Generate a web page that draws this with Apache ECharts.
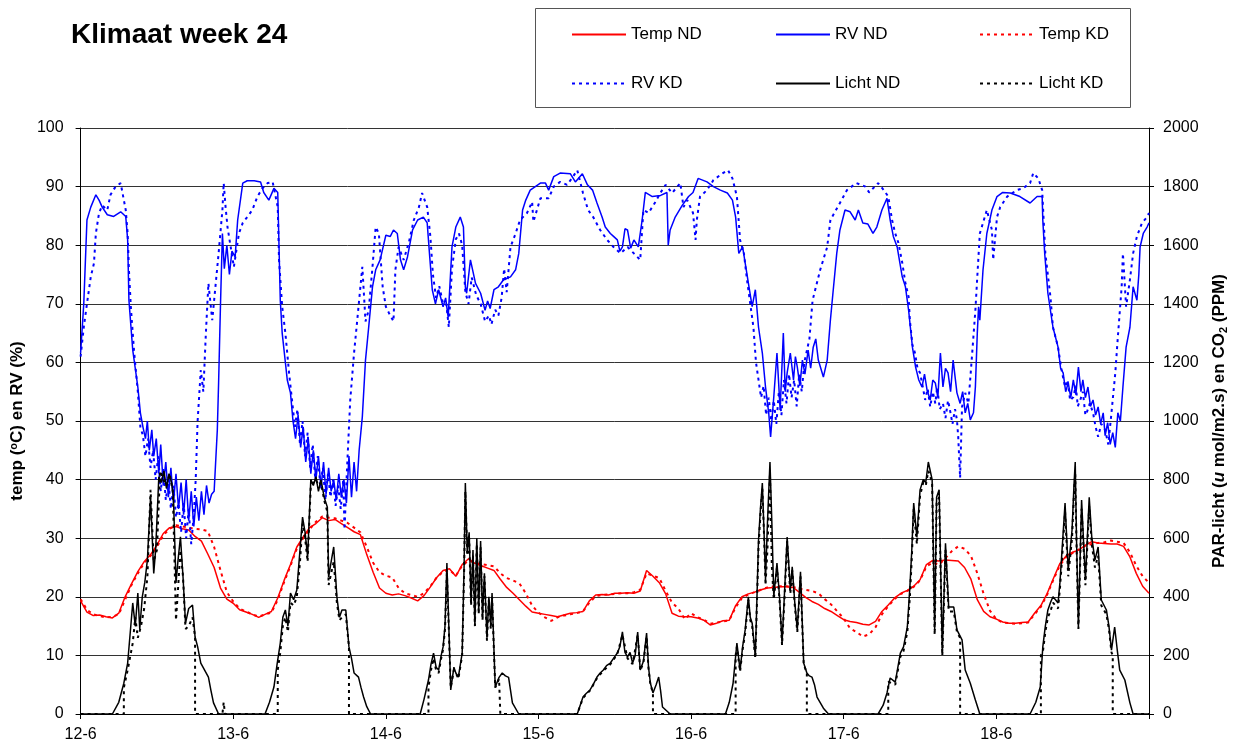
<!DOCTYPE html>
<html><head><meta charset="utf-8">
<script src="https://cdn.jsdelivr.net/npm/echarts@6/dist/echarts.min.js"></script>
<style>html,body{margin:0;padding:0;background:#fff}#c{width:1244px;height:749px}</style>
</head><body><div id="c"></div>
<script>
// x values are hours since 12-6 00:00
const dayLabels = ['12-6','13-6','14-6','15-6','16-6','17-6','18-6'];
const seriesNames = ['Temp ND','RV ND','Temp KD','RV KD','Licht ND','Licht KD'];

// hourly temperature (°C), index = hour 0..168
const tempND = [19.3,17.4,16.8,16.9,16.6,16.4,17.2,20.0,22.2,24.3,26.0,27.2,28.8,30.8,31.8,32.0,31.6,31.4,30.3,29.5,27.3,25.0,21.5,19.6,
18.9,17.8,17.4,17.0,16.5,17.0,17.5,19.8,22.8,25.5,28.5,30.2,31.8,32.5,33.5,33.0,33.2,32.5,31.8,31.1,30.6,27.2,24.2,21.5,
20.6,20.3,20.5,20.2,19.8,19.3,20.2,21.7,23.3,24.5,24.8,23.5,25.5,26.5,25.7,25.3,24.9,24.5,23.0,21.6,20.6,19.5,18.4,17.4,
17.2,17.0,16.8,16.6,16.9,17.2,17.3,17.5,19.3,20.3,20.4,20.3,20.6,20.6,20.7,20.6,21.0,24.5,23.5,22.4,20.5,17.2,16.7,16.6,
16.6,16.4,16.0,15.2,15.5,15.9,16.0,18.5,20.0,20.5,20.8,21.2,21.5,21.6,21.7,21.7,21.6,20.8,19.9,19.2,18.7,18.0,17.5,16.8,
16.1,15.8,15.6,15.3,15.2,15.8,17.5,18.6,19.8,20.6,21.1,21.8,22.9,25.5,26.2,26.1,26.3,26.2,26.1,25.0,23.0,19.5,17.5,16.6,
16.2,15.7,15.5,15.5,15.6,15.7,17.2,18.5,20.6,23.2,25.7,27.0,27.6,28.0,28.8,29.4,29.2,29.1,29.0,29.0,28.6,26.8,24.0,21.8,
20.6];
const tempKD = [19.6,17.8,17.0,16.7,16.5,16.6,17.0,19.5,22.0,24.0,25.8,27.0,28.5,30.5,31.6,32.2,32.0,31.8,31.6,31.5,31.2,28.5,24.5,20.8,
19.2,18.0,17.5,17.0,16.6,17.0,17.3,19.5,22.5,25.3,28.2,30.0,31.5,32.8,33.7,33.5,33.4,33.0,32.6,31.8,31.0,28.5,25.8,24.2,
23.6,23.3,21.5,20.6,20.3,20.0,20.6,21.8,23.3,24.3,24.6,23.6,25.3,26.2,25.8,25.6,25.4,25.2,24.0,23.2,22.8,22.3,20.6,18.5,
17.3,16.5,15.9,16.5,16.8,17.0,17.2,17.5,19.0,20.1,20.3,20.4,20.5,20.6,20.6,20.8,21.2,24.0,23.6,23.2,21.0,19.0,18.0,16.2,
17.2,16.5,16.1,15.4,15.6,15.8,16.0,18.2,19.8,20.4,20.8,21.2,21.6,21.8,21.8,21.8,21.7,21.4,21.2,21.0,20.6,19.6,18.7,17.5,
16.3,14.6,14.0,13.2,13.6,14.8,17.0,18.4,19.6,20.5,21.0,21.7,22.8,25.2,25.8,25.5,26.6,27.8,28.6,28.2,27.0,24.0,20.5,17.6,
16.2,15.6,15.5,15.4,15.5,15.6,17.0,18.3,20.4,23.0,25.4,26.8,27.5,28.1,28.7,29.0,29.2,29.3,29.6,29.4,29.2,27.6,25.3,23.5,
22.4];

// relative humidity (%) as [hour, value]
const rvND = [[0,61.6],[0.5,70],[1,84.3],[1.6,86.5],[2.4,88.6],[2.9,87.7],[3.4,86.5],[4.2,85.2],[5.2,84.9],[6.3,85.7],[7.1,84.9],[7.4,80.9],[7.6,70.6],[8.2,62.1],[9,55.8],[9.4,51.4],[9.8,49],[10.2,47],[10.5,50],[10.8,45],[11.2,48.5],[11.5,44],[11.9,47],[12.3,41],[12.6,46],[13,39],[13.4,43],[13.8,37],[14.2,42],[14.6,36],[15,41],[15.4,35],[15.8,39.5],[16.2,34],[16.6,40],[17,33],[17.4,38],[17.8,32],[18.2,37],[18.6,33],[19,38],[19.4,34],[19.8,39],[20.2,36],[20.6,37.5],[21,38],[21.5,48.5],[21.7,56.5],[22,70],[22.3,82],[22.6,76],[23,80],[23.4,75],[23.8,79],[24.3,78],[24.7,84.3],[25.5,90.6],[26.2,91],[27.3,91],[28.3,90.8],[28.8,89],[29.6,87.7],[30.4,89.7],[31,89],[31.4,70.6],[31.7,65],[32.5,57],[33,54.8],[33.4,50],[33.8,47],[34.2,51],[34.6,45.5],[35,49],[35.4,43],[35.8,47],[36.2,41],[36.6,45],[37,40],[37.4,44],[37.8,38.5],[38.2,43],[38.6,37.5],[39,42],[39.4,38],[39.8,40],[40.2,36.5],[40.6,41],[41,37],[41.4,40],[41.8,36],[42.2,44],[42.6,37],[43,43],[43.4,38],[43.8,45],[44.3,50.7],[44.8,60.4],[45.3,66],[45.9,72.9],[46.4,75.8],[47.1,77.5],[48,81.7],[48.7,81.5],[49.2,82.6],[49.8,82],[50.3,77.5],[50.8,75.8],[51.4,78],[52.2,82.6],[53,84.3],[53.9,84.8],[54.5,83.8],[54.9,78],[55.3,72.4],[55.8,70],[56.3,72.4],[57,69.5],[57.4,71],[57.8,67.7],[58.4,79.7],[59,83.1],[59.7,84.8],[60.2,83.1],[60.5,72.9],[60.7,71.8],[61.3,77.5],[62.1,73.5],[62.9,71.8],[63.6,68.9],[64,70.5],[64.4,69.2],[65,72.4],[65.7,72.9],[66.5,74.1],[67.6,74.6],[68.4,75.8],[68.9,78.6],[69.5,86],[70,87.7],[70.7,89.4],[72.3,90.6],[73.1,90.6],[73.6,89.4],[74.4,91.7],[75.4,92.3],[77,92.2],[77.8,90.8],[78.9,92.2],[79.7,90.3],[80.5,89.4],[81.2,87.2],[82,84.8],[82.5,83.1],[83.3,82],[83.8,81.5],[84.4,80.9],[84.8,79],[85.2,79.7],[85.6,82.8],[86,82.6],[86.5,79.5],[87,80.9],[87.7,79.7],[88.3,84.3],[88.8,89],[89.9,88.3],[91.2,88.5],[92.2,89],[92.4,80],[92.7,82.6],[93.5,84.8],[94.6,86.8],[95.6,88.3],[96.3,89],[97.1,91.4],[98.5,90.8],[99.5,90],[100.6,89.4],[101.7,88.9],[102.5,87.7],[103,84.8],[103.5,78.6],[104.1,79.7],[104.6,76.3],[105.1,72.9],[105.6,69.5],[106.1,72.4],[106.6,66],[107.2,61.6],[107.7,55.8],[108.2,51.4],[108.5,47.3],[109,54.1],[109.5,61.6],[110,51.9],[110.5,65],[110.8,55],[111.1,58.2],[111.6,61.6],[112.1,57],[112.4,61],[112.7,59.2],[113.1,56],[113.5,60.4],[113.9,58],[114.4,62.1],[114.8,59],[115.2,62.6],[115.6,64],[116,60.4],[116.8,57.5],[117.4,60.4],[117.9,67.2],[118.3,71.8],[118.9,78.6],[119.4,82.6],[120.2,86],[121,85.7],[121.8,84.3],[122.3,86],[123,83.8],[123.8,83.6],[124.6,82],[125.2,83.1],[126,86],[126.8,88],[127.3,84.3],[127.8,81.5],[128.4,79.7],[129.2,74.6],[129.7,72.9],[130.2,68.9],[130.8,62.6],[131.3,59.2],[131.8,57],[132.3,55.8],[132.7,58],[133.1,55.3],[133.6,53.6],[134,57],[134.4,56.5],[134.8,54],[135.2,61.6],[135.6,55.8],[136,59],[136.4,58.2],[136.8,55],[137.2,60.4],[137.8,54.8],[138.3,53],[138.7,55],[139.1,51.4],[139.5,53],[139.9,50.2],[140.4,51.4],[140.7,55.8],[141,65],[141.2,69.5],[141.4,67.2],[141.9,75.8],[142.5,82],[143.3,86],[144.1,88.3],[145,89],[146.2,88.9],[147.7,88.3],[149.3,87.2],[150.4,88.3],[151.2,88.3],[151.3,84.3],[151.6,78.6],[152.1,71.8],[152.9,66],[153.7,62.6],[154.1,59],[154.5,58.2],[154.9,55],[155.3,56.5],[155.7,54],[156.1,57],[156.5,54.5],[156.9,59.2],[157.3,55],[157.6,57],[158,54],[158.4,55.8],[158.8,52.5],[159.2,53.6],[159.6,51],[160,52.4],[160.4,49.5],[160.8,51.4],[161.1,47.5],[161.5,49.7],[161.9,46],[162.3,48],[162.7,45.5],[163.1,51.4],[163.5,50],[163.9,55.8],[164.4,62.6],[165,66],[165.5,72.9],[166.1,70.6],[166.4,75],[166.6,79.7],[167.1,82],[167.7,83.1],[168,83.8]];

const rvKD = [[0,61],[0.5,66],[1,70],[1.6,74.6],[2.1,76.9],[2.4,82],[2.9,85.5],[3.4,86.8],[4.2,86],[4.7,88.6],[5.5,90],[6.3,90.6],[6.8,87.7],[7.1,86],[7.4,82],[7.6,75.8],[7.9,69.5],[8.4,62],[9,55],[9.4,49],[9.8,47.5],[10.2,44],[10.6,47],[11,42],[11.4,45],[11.8,40],[12.2,44],[12.6,38],[13,42],[13.4,36.5],[13.8,40],[14.2,35],[14.6,39],[15,33.5],[15.4,36],[15.8,31],[16.2,36],[16.6,30],[17,35],[17.4,29],[17.8,34],[18.1,40],[18.4,50],[18.9,58.7],[19.3,55],[19.7,65],[20.1,73.5],[20.7,67.2],[21.2,72.9],[21.7,78.6],[22.3,86],[22.5,90.6],[22.8,86.5],[23.1,83.1],[23.6,79.7],[24.1,76.3],[24.9,82],[25.5,83.8],[26.2,84.8],[27,86],[27.8,88.3],[28.6,89.7],[29.4,90.6],[30.2,90.8],[31,86.5],[31.2,77.5],[31.7,69.5],[32.2,65],[32.8,58],[33.3,53],[33.7,49],[34.1,52],[34.5,46],[34.9,50],[35.3,44],[35.7,48],[36.1,42],[36.5,46],[36.9,40],[37.3,44],[37.7,39],[38.1,42],[38.5,36.5],[38.9,41],[39.3,37],[39.7,40],[40.1,35.5],[40.5,39],[40.9,35],[41.3,40],[41.5,31.5],[41.9,42],[42.4,53.6],[43,61.6],[43.5,67.2],[44,72.9],[44.3,76.3],[44.8,67],[45.3,68.9],[45.9,76.3],[46.4,83.1],[46.9,82],[47.5,72.9],[48,69.5],[48.5,68.4],[49.2,67],[49.5,75.8],[50,79.7],[50.8,77.5],[51.6,80.4],[52.4,84.3],[53.2,86.5],[53.7,88.9],[54.5,86.5],[55,81.5],[55.4,75],[55.9,71],[56.4,73],[57,70],[57.5,70],[57.9,66],[58.4,76],[59,81],[59.5,82],[60,80],[60.5,72],[61,70],[61.5,74.5],[62.2,71.5],[62.9,70],[63.6,67],[64.2,68],[64.6,66.5],[65.2,69],[65.7,68],[66.2,71],[66.6,76],[67,72],[67.6,79.7],[68.4,82],[69.1,84.3],[70.2,85.5],[71,87.4],[71.2,84],[72.3,88],[73.6,88],[74.4,90],[75.4,90.8],[76.5,90.3],[77.3,91.5],[78.1,92.8],[79,88.9],[79.8,86],[80.6,84.8],[81.7,82.6],[82.8,80.9],[83.8,79.7],[84.9,78.6],[86,79.7],[87,78.6],[88,77.5],[88.5,86],[89.3,85.5],[90.4,87.4],[91.2,89],[92,90.3],[93,88.9],[94.3,90.6],[94.8,86.5],[95.4,87.7],[96.3,85.5],[96.7,80.9],[96.9,84.3],[97.4,88.3],[98.5,89.4],[99.5,91.1],[101,92.3],[101.8,92.8],[102.5,91.4],[103.2,88.3],[103.7,80.9],[104.3,78.6],[104.8,74],[105.3,70],[105.8,66],[106.2,60],[106.6,57],[107,54],[107.4,56],[107.8,51],[108.2,54],[108.6,50],[109,53.5],[109.4,49.5],[109.8,55],[110.2,51],[110.6,57],[111,53],[111.4,58],[111.8,54],[112.2,57],[112.6,52.5],[113,58],[113.4,55],[113.8,60],[114.2,62],[114.6,64],[115.1,70.6],[116.3,75.8],[117.4,79.7],[117.9,84.3],[119.4,87.2],[120.5,89.4],[122,90.6],[123.4,90],[124,89],[125.4,90.6],[125.7,90.8],[126.3,89.4],[127,88.3],[127.6,84.3],[128.1,82],[128.6,80.4],[129.2,77],[129.7,73.5],[130.2,71.2],[130.4,67.2],[130.8,63],[131.2,61.6],[131.6,59],[132,58.2],[132.4,56],[132.8,53.6],[133.2,55.5],[133.6,52.4],[134,55],[134.4,53],[134.7,55.8],[135.1,52],[135.6,53],[136,50.5],[136.4,53.5],[136.7,51.9],[137.1,49.5],[137.5,52],[137.8,50.2],[138,47.3],[138.3,40.3],[138.6,52.4],[139.1,54.8],[139.6,53],[140.2,61.6],[140.7,68.9],[141,74.6],[141.4,82],[142.5,86],[143.3,82.6],[143.5,77.5],[144.1,84.8],[144.6,86.5],[145.7,88.3],[147.2,89.4],[148.2,89.7],[149.3,90.6],[149.8,92.3],[150.6,91.4],[151.2,89.4],[151.7,78.6],[152.5,71.2],[152.9,66],[153.7,62.6],[154.2,59],[154.8,55.8],[155.2,57],[155.6,53.5],[156.1,54.1],[156.5,56],[156.8,52.5],[157.2,53.6],[157.6,55],[158,51],[158.2,51.4],[158.7,53],[159.2,51.4],[159.6,49],[160,47.3],[160.5,49.5],[161.1,48.5],[161.6,46],[162.1,51.4],[162.7,58.2],[163.1,64.3],[163.7,72.9],[163.9,78.6],[164.4,69.5],[165,74.1],[165.5,78.6],[166.1,81.5],[166.9,83.8],[167.7,84.8],[168,85.5]];

// PAR light (umol/m2.s) as [hour, value]
const lichtND = [[0,0],[5,0],[6,40],[6.8,105],[7.4,174],[8.2,379],[8.6,300],[9,413],[9.3,290],[9.7,400],[10.1,450],[10.5,525],[11,740],[11.5,480],[11.8,560],[12.3,810],[12.7,790],[13.1,830],[13.5,770],[13.9,820],[14.3,790],[14.6,740],[15,447],[15.3,520],[15.7,605],[16.1,470],[16.5,310],[17,360],[17.6,372],[18,263],[18.4,230],[18.9,174],[19.5,150],[20.1,126],[20.5,80],[20.9,38],[21.7,0],
[29,0],[29.7,40],[30.4,92],[30.9,170],[31.4,242],[31.8,330],[32.2,355],[32.6,300],[33,413],[33.5,390],[34,423],[34.5,560],[34.9,672],[35.3,620],[35.7,536],[36.2,800],[36.6,780],[37,810],[37.4,760],[37.8,800],[38.3,740],[38.8,706],[39,467],[39.4,520],[39.8,570],[40.3,400],[40.7,330],[41.1,355],[41.7,355],[42.2,229],[42.6,190],[43,140],[43.7,126],[44.1,90],[44.5,58],[45,25],[45.6,0],
[53.4,0],[54,50],[54.7,116],[55.1,170],[55.5,208],[55.9,160],[56.3,150],[56.7,200],[57,229],[57.3,300],[57.6,515],[57.9,300],[58.2,82],[58.7,160],[59,140],[59.4,126],[60,208],[60.3,500],[60.5,788],[60.8,550],[61.1,620],[61.4,380],[61.7,560],[62,300],[62.3,600],[62.6,350],[62.9,590],[63.2,330],[63.5,480],[63.9,260],[64.2,400],[64.5,300],[64.7,413],[65,218],[65.2,92],[65.8,125],[66.3,140],[66.8,130],[67.3,125],[67.9,38],[68.9,0],
[78.1,0],[79,58],[79.5,70],[80.1,82],[80.6,100],[81.2,126],[81.7,140],[82.2,150],[82.7,165],[83.3,174],[83.8,190],[84.4,208],[84.8,230],[85.2,280],[85.6,210],[86,195],[86.4,210],[86.8,174],[87.2,200],[87.6,280],[88,150],[88.5,180],[89,276],[89.3,160],[89.6,105],[90,72],[90.5,100],[90.9,126],[91.2,80],[91.5,24],[92.7,0],
[101.4,0],[102,40],[102.6,105],[103.2,242],[103.7,150],[104.1,230],[104.5,287],[105,400],[105.3,330],[105.6,310],[106.1,195],[106.6,594],[106.9,700],[107.2,788],[107.5,600],[107.7,457],[108,650],[108.4,860],[108.7,650],[109,400],[109.5,515],[109.9,400],[110.3,242],[110.7,420],[111.1,604],[111.6,423],[111.9,502],[112.3,380],[112.7,287],[113.2,485],[113.7,174],[114.2,140],[114.6,130],[115,126],[115.4,100],[115.8,58],[116.8,20],[117.6,0],
[125.4,0],[126.2,30],[126.8,72],[127.3,123],[128.1,109],[128.9,208],[129.4,229],[130,297],[130.4,433],[130.7,560],[131,720],[131.5,604],[132,765],[132.5,800],[132.9,790],[133.3,860],[133.9,800],[134.3,287],[134.6,740],[135,765],[135.5,208],[136,583],[136.5,365],[137.3,365],[137.8,287],[138.2,270],[138.6,253],[139.1,150],[139.9,105],[140.7,48],[141.4,0],
[149.3,0],[150.2,40],[150.9,92],[151.3,229],[151.7,300],[152.1,355],[152.5,380],[152.9,400],[153.3,390],[153.7,379],[154,450],[154.3,550],[154.8,720],[155.3,491],[155.9,628],[156.2,780],[156.4,860],[156.6,600],[156.9,297],[157.4,730],[158,457],[158.6,740],[159,604],[159.5,525],[160,570],[160.5,389],[161.3,355],[161.7,300],[162.1,218],[162.6,297],[163,220],[163.4,150],[164.2,116],[165,38],[165.5,0],[168,0]];

const lichtKD = [[0,0],[6.8,0],[6.8,90],[7.4,150],[8.2,242],[8.6,330],[9,260],[9.5,300],[10,360],[10.5,467],[11,765],[11.5,520],[12,560],[12.5,830],[13,800],[13.5,780],[14,820],[14.5,760],[15,320],[15.3,420],[15.7,560],[16.1,470],[16.5,290],[17,300],[17.6,330],[18,263],[18,0],[22.3,0],[22.5,40],[22.7,0],
[31,0],[31,150],[31.4,210],[31.8,300],[32.2,330],[32.6,280],[33,380],[33.5,370],[34,400],[34.5,520],[34.9,650],[35.3,600],[35.7,520],[36.2,780],[36.6,790],[37,800],[37.4,780],[37.8,790],[38.3,730],[38.8,690],[39,440],[39.4,480],[39.8,520],[40.3,380],[40.7,320],[41.1,330],[41.7,340],[42.2,229],[42.2,0],
[54.7,0],[54.7,90],[55.1,150],[55.5,190],[55.9,150],[56.3,140],[56.7,190],[57,220],[57.3,290],[57.6,480],[57.9,290],[58.2,90],[58.7,150],[59,140],[59.4,120],[60,200],[60.3,480],[60.5,760],[60.8,540],[61.1,600],[61.4,370],[61.7,540],[62,300],[62.3,580],[62.6,340],[62.9,570],[63.2,320],[63.5,470],[63.9,250],[64.2,390],[64.5,290],[64.7,400],[65,210],[65.2,90],[65.8,120],[66,125],[66,0],
[78.1,0],[79,55],[80.1,80],[81.2,122],[82.2,148],[83.3,170],[84.4,205],[85.2,270],[86,190],[86.8,170],[87.6,270],[88,148],[88.5,175],[89,265],[89.3,155],[89.6,100],[90,72],[90,0],
[103,0],[103,200],[103.2,230],[103.7,145],[104.1,220],[104.5,275],[105,390],[105.3,320],[105.6,300],[106.1,190],[106.6,570],[106.9,680],[107.2,770],[107.5,590],[107.7,440],[108,560],[108.4,820],[108.7,500],[109,390],[109.5,500],[109.9,390],[110.3,235],[110.7,400],[111.1,590],[111.6,410],[111.9,490],[112.3,370],[112.7,280],[113.2,470],[113.7,170],[114.2,140],[114.2,0],
[127,0],[127,110],[127.3,115],[128.1,100],[128.9,195],[129.4,215],[130,280],[130.4,400],[130.7,530],[131,700],[131.5,580],[132,745],[132.5,790],[132.9,780],[133.3,830],[133.9,790],[134.3,270],[134.6,720],[135,740],[135.5,200],[136,560],[136.5,350],[137.3,350],[137.8,280],[138.3,260],[138.3,0],
[151,0],[151,200],[151.3,210],[151.7,280],[152.1,330],[152.5,350],[152.9,380],[153.3,370],[153.7,360],[154,430],[154.3,520],[154.8,690],[155.3,470],[155.9,600],[156.2,750],[156.4,820],[156.6,580],[156.9,290],[157.4,700],[158,440],[158.6,710],[159,580],[159.5,500],[160,540],[160.5,370],[161.3,340],[161.7,290],[162.1,210],[162.3,200],[162.3,0],[168,0]];

const FONT = "'Liberation Sans', Arial, sans-serif";
const hourly = arr => arr.map((v, i) => [i, v]);
const DOT = [3, 4];

function line(name, data, color, dotted, yIdx) {
  return {
    name, type: 'line', data, yAxisIndex: yIdx || 0,
    symbol: 'none', showSymbol: false, animation: false,
    lineStyle: { color, width: dotted ? 2 : 1.5, type: dotted ? DOT : 'solid' },
    itemStyle: { color }
  };
}

const chart = echarts.init(document.getElementById('c'), null, { renderer: 'canvas' });
const legendBase = {
  orient: 'vertical', itemWidth: 54, itemHeight: 10, itemGap: 32,
  itemStyle: { opacity: 0 },
  textStyle: { fontFamily: FONT, fontSize: 17, color: '#000' },
  top: 26, padding: 0, selectedMode: false
};
const tickLabel = { fontFamily: FONT, fontSize: 16, color: '#000' };
chart.setOption({
  backgroundColor: '#fff',
  animation: false,
  title: { text: 'Klimaat week 24', left: 71, top: 21, padding: 0,
    textStyle: { fontFamily: FONT, fontSize: 28, fontWeight: 'bold', color: '#000' } },
  legend: [
    Object.assign({}, legendBase, { left: 571, data: [seriesNames[0], seriesNames[3]] }),
    Object.assign({}, legendBase, { left: 775, data: [seriesNames[1], seriesNames[4]] }),
    Object.assign({}, legendBase, { left: 979, data: [seriesNames[2], seriesNames[5]] })
  ],
  graphic: [{ type: 'rect', shape: { x: 535.5, y: 8.5, width: 595, height: 99 },
    style: { fill: 'none', stroke: '#555', lineWidth: 1 }, silent: true }],
  grid: { left: 80, right: 95, top: 128, bottom: 35 },
  xAxis: {
    type: 'value', min: 0, max: 168, interval: 24,
    axisLine: { lineStyle: { color: '#000', width: 1 } },
    axisTick: { show: true, length: 5, lineStyle: { color: '#000' } },
    splitLine: { show: false },
    axisLabel: Object.assign({ margin: 13, formatter: v => dayLabels[Math.round(v / 24)] || '' }, tickLabel)
  },
  yAxis: [
    { type: 'value', min: 0, max: 100, interval: 10, position: 'left',
      name: 'temp ({sup|o}C) en RV (%)', nameLocation: 'middle', nameGap: 42, nameRotate: 90,
      nameTextStyle: { fontFamily: FONT, fontSize: 17, fontWeight: 'bold', color: '#000',
        rich: { sup: { fontFamily: FONT, fontSize: 11, fontWeight: 'bold', color: '#000', padding: [0, 0, 8, 0] } } },
      axisLine: { show: true, lineStyle: { color: '#000' } },
      axisTick: { show: true, length: 5, lineStyle: { color: '#000' } },
      splitLine: { show: true, lineStyle: { color: '#333', width: 1 } },
      axisLabel: Object.assign({ margin: 17 }, tickLabel) },
    { type: 'value', min: 0, max: 2000, interval: 200, position: 'right',
      name: 'PAR-licht ({it|u} mol/m2.s) en CO{sub|2} (PPM)', nameLocation: 'middle', nameGap: 61, nameRotate: 90,
      nameTextStyle: { fontFamily: FONT, fontSize: 17, fontWeight: 'bold', color: '#000',
        rich: { it: { fontFamily: FONT, fontSize: 17, fontStyle: 'italic', color: '#000' },
                sub: { fontFamily: FONT, fontSize: 11, fontWeight: 'bold', color: '#000', padding: [8, 0, 0, 0] } } },
      axisLine: { show: true, lineStyle: { color: '#000' } },
      axisTick: { show: true, length: 5, lineStyle: { color: '#000' } },
      splitLine: { show: false },
      axisLabel: Object.assign({ margin: 14, formatter: v => String(v) }, tickLabel) }
  ],
  series: [
    line(seriesNames[0], hourly(tempND), '#ff0000', false),
    line(seriesNames[1], rvND, '#0000ff', false),
    line(seriesNames[2], hourly(tempKD), '#ff0000', true),
    line(seriesNames[3], rvKD, '#0000ff', true),
    line(seriesNames[4], lichtND, '#000000', false, 1),
    line(seriesNames[5], lichtKD, '#000000', true, 1)
  ]
});
</script></body></html>
